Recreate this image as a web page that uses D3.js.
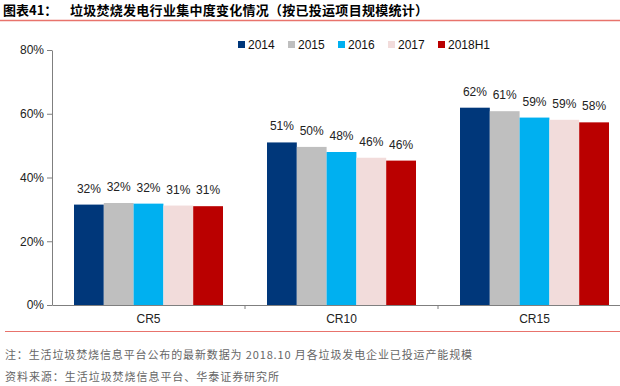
<!DOCTYPE html>
<html><head><meta charset="utf-8">
<script src="https://cdn.jsdelivr.net/npm/d3@7"></script>
<style>body{margin:0;background:#fff}svg{display:block}</style>
</head><body>
<svg id="c" width="620" height="386"></svg>
<script>
const categories = ["CR5", "CR10", "CR15"];
const seriesNames = ["2014", "2015", "2016", "2017", "2018H1"];
const v2014 = [31.5, 51.0, 61.9];
const v2015 = [32.0, 49.6, 60.8];
const v2016 = [31.8, 48.0, 58.8];
const v2017 = [31.2, 46.2, 58.1];
const v2018H1 = [31.0, 45.3, 57.3];
const labels2014 = ["32%", "51%", "62%"];
const labels2015 = ["32%", "50%", "61%"];
const labels2016 = ["32%", "48%", "59%"];
const labels2017 = ["31%", "46%", "59%"];
const labels2018H1 = ["31%", "46%", "58%"];
const yTicks = [0, 20, 40, 60, 80];
const colors = ["#00377A", "#BFBFBF", "#00B0F0", "#F2DCDB", "#BA0000"];

const series = [v2014, v2015, v2016, v2017, v2018H1];
const seriesLabels = [labels2014, labels2015, labels2016, labels2017, labels2018H1];

const svg = d3.select("#c");
const font = "'Liberation Sans', Arial, sans-serif";
const cjk = "'Noto Sans CJK SC', sans-serif";

// Title
svg.append("text").attr("x", 3).attr("y", 15)
  .attr("font-family", cjk).attr("font-weight", "bold").attr("font-size", 13).attr("fill", "#000")
  .text("图表41：");
svg.append("text").attr("x", 70).attr("y", 15)
  .attr("font-family", cjk).attr("font-weight", "bold").attr("font-size", 13).attr("fill", "#000")
  .attr("textLength", 358).attr("lengthAdjust", "spacing")
  .text("垃圾焚烧发电行业集中度变化情况（按已投运项目规模统计）");
svg.append("line").attr("x1", 0).attr("x2", 620).attr("y1", 20.5).attr("y2", 20.5)
  .attr("stroke", "#E8736C").attr("stroke-width", 1.5);

const x0 = d3.scaleBand().domain(categories).range([52, 631]).paddingInner(0).paddingOuter(0);
const y = d3.scaleLinear().domain([0, 80]).range([305, 50]);
const x1 = d3.scaleBand().domain(seriesNames).range([0, 149]);

// Y axis
const yAxis = d3.axisLeft(y).tickValues(yTicks).tickFormat(d => d + "%").tickSize(5).tickSizeOuter(0);
const gy = svg.append("g").attr("transform", "translate(52,0)").call(yAxis);
gy.select(".domain").attr("stroke", "#7F7F7F");
gy.selectAll(".tick line").attr("stroke", "#7F7F7F");
gy.selectAll(".tick text").attr("font-family", font).attr("font-size", 12).attr("fill", "#222").attr("x", -8);

// Bars
categories.forEach((c, ci) => {
  const gx = x0(c) + (x0.bandwidth() - 149) / 2;
  series.forEach((s, si) => {
    svg.append("rect")
      .attr("x", gx + x1(seriesNames[si]))
      .attr("y", y(s[ci]))
      .attr("width", x1.bandwidth())
      .attr("height", y(0) - y(s[ci]))
      .attr("fill", colors[si]);
    svg.append("text")
      .attr("x", gx + x1(seriesNames[si]) + x1.bandwidth() / 2)
      .attr("y", y(s[ci]) - 12)
      .attr("text-anchor", "middle")
      .attr("font-family", font).attr("font-size", 12).attr("fill", "#222")
      .text(seriesLabels[si][ci]);
  });
});

// X axis
const xAxis = d3.axisBottom(x0).tickSize(0).tickSizeOuter(0);
const gxA = svg.append("g").attr("transform", "translate(0,305)").call(xAxis);
gxA.select(".domain").attr("stroke", "#7F7F7F");
gxA.selectAll(".tick text").attr("font-family", font).attr("font-size", 12).attr("fill", "#222").attr("dy", "1.25em");
const bounds = [x0("CR10"), x0("CR15")];
svg.selectAll(".sep").data(bounds).enter().append("line")
  .attr("x1", d => d).attr("x2", d => d).attr("y1", 305).attr("y2", 309)
  .attr("stroke", "#7F7F7F");

// Legend
const legend = svg.append("g").attr("transform", "translate(238,0)");
seriesNames.forEach((n, i) => {
  legend.append("rect").attr("x", i * 50).attr("y", 41).attr("width", 7).attr("height", 7).attr("fill", colors[i]);
  legend.append("text").attr("x", i * 50 + 10).attr("y", 49)
    .attr("font-family", font).attr("font-size", 12).attr("fill", "#111").text(n);
});

// Footer
svg.append("line").attr("x1", 5).attr("x2", 620).attr("y1", 331.5).attr("y2", 331.5)
  .attr("stroke", "#E8736C").attr("stroke-width", 1);
svg.append("text").attr("x", 5).attr("y", 359)
  .attr("font-family", cjk).attr("font-size", 11).attr("fill", "#666")
  .attr("textLength", 467).attr("lengthAdjust", "spacing")
  .text("注：生活垃圾焚烧信息平台公布的最新数据为 2018.10 月各垃圾发电企业已投运产能规模");
svg.append("text").attr("x", 5).attr("y", 381)
  .attr("font-family", cjk).attr("font-size", 11).attr("fill", "#666")
  .attr("textLength", 274).attr("lengthAdjust", "spacing")
  .text("资料来源：生活垃圾焚烧信息平台、华泰证券研究所");
</script>
</body></html>
